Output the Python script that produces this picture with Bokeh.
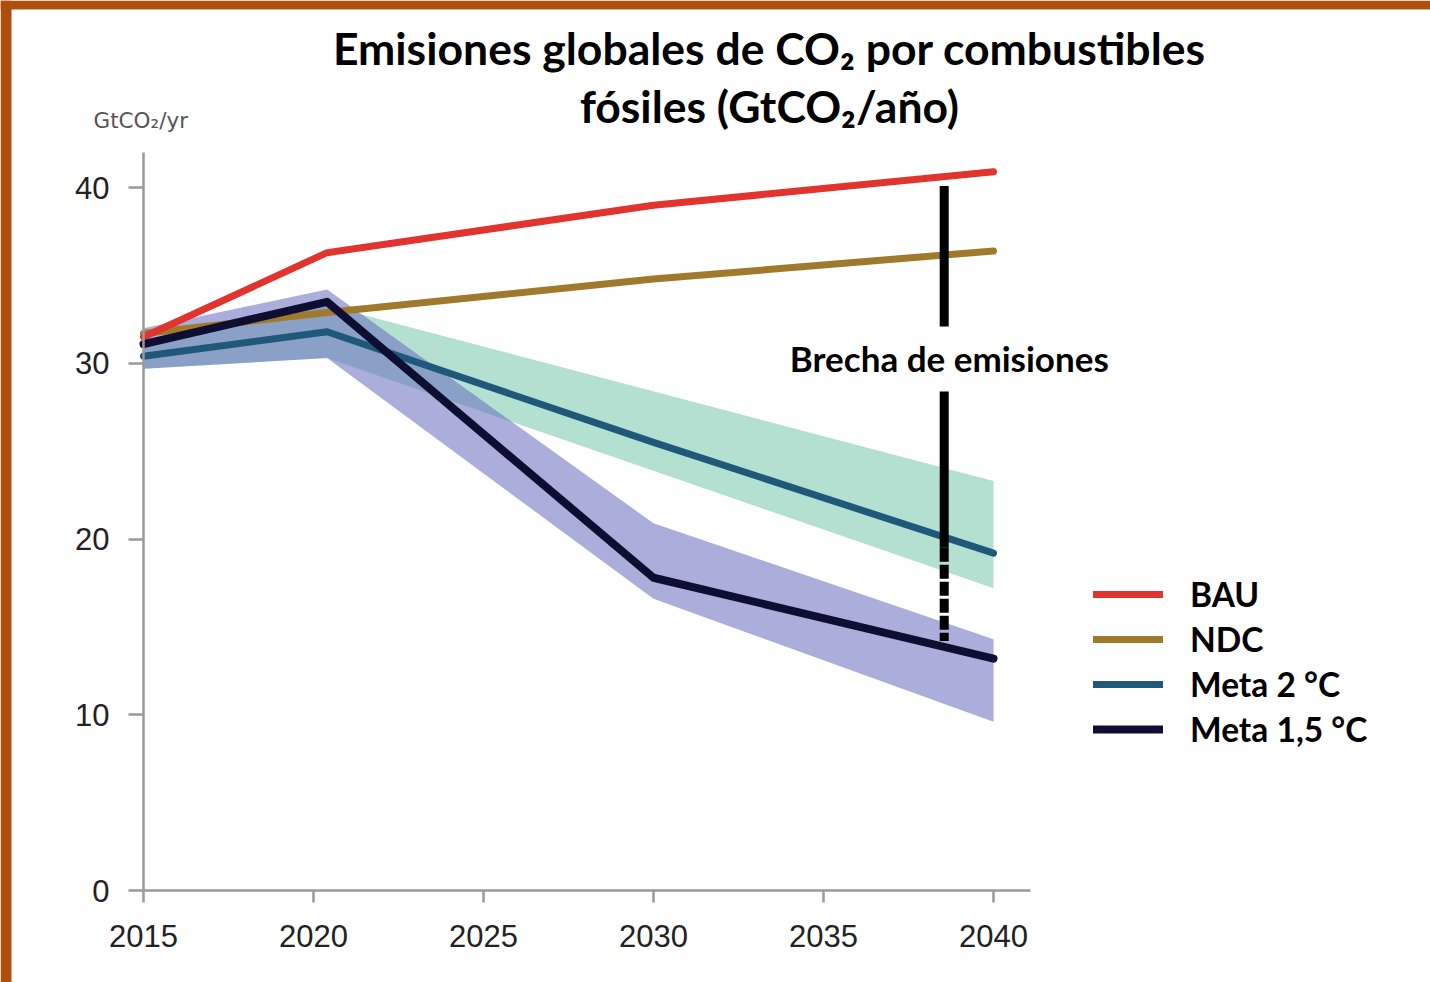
from bokeh.plotting import figure
from bokeh.models import Legend, LegendItem, Label, BoxAnnotation, FixedTicker, Range1d
from bokeh.embed import file_html
from bokeh.resources import INLINE

# ---------------- data ----------------
years = [2015, 2020.4, 2030, 2040]
bau = [31.5, 36.3, 39.0, 40.9]
ndc = [31.7, 32.9, 34.8, 36.4]
meta2 = [30.4, 31.8, 25.5, 19.2]
meta15 = [31.1, 33.5, 17.8, 13.2]

band2_years = [2015, 2020.4, 2040]
band2_low = [29.7, 30.3, 17.2]
band2_high = [31.3, 33.3, 23.3]

band15_years = [2015, 2020.4, 2030, 2040]
band15_low = [29.7, 30.3, 16.6, 9.6]
band15_high = [32.0, 34.2, 20.9, 14.3]

gap_x = 2038.55
gap_upper = [40.1, 32.1]
gap_lower_solid = [28.4, 19.5]
gap_lower_dashed = [19.5, 14.2]

x_ticks = [2015, 2020, 2025, 2030, 2035, 2040]
y_ticks = [0, 10, 20, 30, 40]

series_names = ["BAU", "NDC", "Meta 2 °C", "Meta 1,5 °C"]
series_colors = ["#E2342F", "#A1792C", "#1F5878", "#0E0E32"]

# ---------------- figure ----------------
W, H = 1430, 982
PX_X = 34.0      # pixels per year
PX_Y = 17.571    # pixels per GtCO2
x0 = 2015 - 143 / PX_X
y1 = 890 / PX_Y
p = figure(width=W, height=H,
           x_range=Range1d(x0, x0 + W / PX_X), y_range=Range1d(y1 - H / PX_Y, y1),
           output_backend="svg", toolbar_location=None,
           min_border=0, min_border_left=0, min_border_right=0, min_border_top=0, min_border_bottom=0)
p.title.visible = False
p.xgrid.visible = False
p.ygrid.visible = False
p.outline_line_color = None
p.background_fill_color = "white"
p.border_fill_color = "white"

for ax in (p.xaxis[0], p.yaxis[0]):
    ax.axis_line_color = "#9a9a9a"
    ax.axis_line_width = 2.5
    ax.major_tick_line_color = "#9a9a9a"
    ax.major_tick_line_width = 2.5
    ax.major_tick_in = 0
    ax.minor_tick_line_color = None
    ax.major_label_text_font = "Liberation Sans"
    ax.major_label_text_font_size = "31px"
    ax.major_label_text_color = "#222222"

p.xaxis.ticker = FixedTicker(ticks=x_ticks)
p.xaxis.bounds = (2015, 2041.1)
p.xaxis.fixed_location = 0
p.xaxis.major_tick_out = 12
p.xaxis.major_label_standoff = 22
p.yaxis.ticker = FixedTicker(ticks=y_ticks)
p.yaxis.bounds = (0, 42)
p.yaxis.fixed_location = 2015
p.yaxis.major_tick_out = 15
p.yaxis.major_label_standoff = 19

# bands
p.varea(x=band2_years, y1=band2_low, y2=band2_high, fill_color="#B4E0D2", fill_alpha=1.0)
p.varea(x=band15_years, y1=band15_low, y2=band15_high, fill_color="#6E72BF", fill_alpha=0.58)

# lines
r_meta2 = p.line(years, meta2, line_color=series_colors[2], line_width=7, line_join="round", line_cap="round")
r_ndc = p.line(years, ndc, line_color=series_colors[1], line_width=7, line_join="round", line_cap="round")
r_bau = p.line(years, bau, line_color=series_colors[0], line_width=7, line_join="round", line_cap="round")
r_meta15 = p.line(years, meta15, line_color=series_colors[3], line_width=8, line_join="round", line_cap="round")

# emissions gap bar
p.segment(x0=[gap_x], y0=[gap_upper[0]], x1=[gap_x], y1=[gap_upper[1]], line_color="black", line_width=9)
p.segment(x0=[gap_x], y0=[gap_lower_solid[0]], x1=[gap_x], y1=[gap_lower_solid[1]], line_color="black", line_width=9)
p.segment(x0=[gap_x], y0=[gap_lower_dashed[0]], x1=[gap_x], y1=[gap_lower_dashed[1]], line_color="black",
          line_width=9, line_dash="14 3")
p.add_layout(Label(x=2038.7, y=30.32, text="Brecha de emisiones", text_align="center", text_baseline="middle",
                   text_font="Lato", text_font_style="bold", text_font_size="35px", text_color="black"))

# legend
items = [LegendItem(label=n, renderers=[r]) for n, r in
         zip(series_names, [r_bau, r_ndc, r_meta2, r_meta15])]
legend = Legend(items=items, location=(1093, 233), glyph_width=70, glyph_height=38, label_height=38,
                spacing=5, label_standoff=27, padding=0, margin=0, border_line_color=None,
                background_fill_alpha=0, label_text_font="Lato", label_text_font_style="bold",
                label_text_font_size="33.5px", label_text_color="black")
p.add_layout(legend)

# titles and unit label
p.add_layout(Label(x=2033.41, y=47.97, text="Emisiones globales de CO₂ por combustibles", text_align="center",
                   text_baseline="alphabetic", text_font="Lato", text_font_style="bold", text_font_size="44.5px",
                   text_color="black"))
p.add_layout(Label(x=2033.41, y=44.68, text="fósiles (GtCO₂/año)", text_align="center",
                   text_baseline="alphabetic", text_font="Lato", text_font_style="bold", text_font_size="44.5px",
                   text_color="black"))
p.add_layout(Label(x=2013.53, y=43.8, text="GtCO₂/yr", text_align="left", text_baseline="alphabetic",
                   text_font="DejaVu Sans", text_font_size="21.5px", text_color="#555555"))

# frame border (orange)
p.add_layout(BoxAnnotation(left=0, right=11, top=0, bottom=H, left_units="canvas", right_units="canvas",
                           top_units="canvas", bottom_units="canvas", fill_color="#AE4F10", fill_alpha=1,
                           line_color=None))
p.add_layout(BoxAnnotation(left=0, right=W, top=0, bottom=9, left_units="canvas", right_units="canvas",
                           top_units="canvas", bottom_units="canvas", fill_color="#AE4F10", fill_alpha=1,
                           line_color=None))

open("out.html", "w").write(file_html(p, INLINE))
